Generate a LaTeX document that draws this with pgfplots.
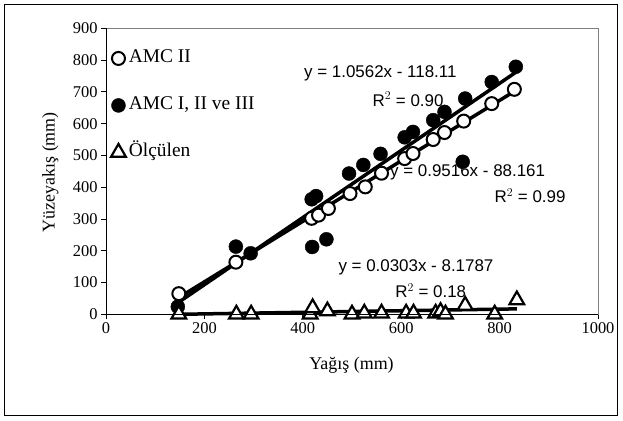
\documentclass[border=0pt]{standalone}
\usepackage{fontspec}
\setmainfont{Liberation Serif}
\newfontfamily\arial{Liberation Sans}
\usepackage{pgfplots}
\pgfplotsset{compat=1.18}

\begin{document}
\begin{tikzpicture}
\begin{axis}[
    scale only axis,
    width=492bp, height=286bp,
    xmin=0, xmax=1000, ymin=0, ymax=900,
    xtick={0,200,...,1000},
    ytick={0,100,...,900},
    tick pos=left,
    tick align=outside,
    major tick length=5bp,
    tick style={black, line width=0.8bp},
    axis line style={draw=gray, line width=0.8bp},
    clip=false,
    /pgf/number format/assume math mode=true,
    /pgf/number format/1000 sep={},
    tick label style={font=\fontsize{16.5}{18}\selectfont},
    xlabel={Yağış (mm)},
    ylabel={Yüzeyakış (mm)},
    label style={font=\fontsize{18}{20}\selectfont},
    xlabel style={at={(rel axis cs:0.499,-0.177)}, anchor=center},
    ylabel style={at={(rel axis cs:-0.113,0.497)}, anchor=center, rotate=0},
    legend style={at={(rel axis cs:0.01,0.932)}, anchor=north west,
        draw=none, fill=none, inner sep=0pt, row sep=26bp,
        font=\fontsize{19.5}{21}\selectfont,
        nodes={text height=13bp, text depth=4bp, inner xsep=3bp}},
    legend cell align=left,
    legend image code/.code={\draw[#1] plot coordinates {(0bp,0bp)};},
]
% regression labels first, so the marks cover them
\node[font=\arial\fontsize{17}{19}\selectfont] at (axis cs:557.6,758.8) {y = 1.0562x - 118.11};
\node[font=\arial\fontsize{17}{19}\selectfont] at (axis cs:614,677) {R$^2$ = 0.90};
\node[font=\arial\fontsize{17}{19}\selectfont] at (axis cs:735,447) {y = 0.9516x - 88.161};
\node[font=\arial\fontsize{17}{19}\selectfont] at (axis cs:862,372) {R$^2$ = 0.99};
\node[font=\arial\fontsize{17}{19}\selectfont] at (axis cs:630,148) {y = 0.0303x - 8.1787};
\node[font=\arial\fontsize{17}{19}\selectfont] at (axis cs:660,73) {R$^2$ = 0.18};

\addplot[only marks, mark=*, mark size=6.5bp, mark options={draw=black, fill=white, line width=2bp}]
coordinates {
(148,65)(264,164)(418,302)(432,312)(452,333)(496,380)(527,401)(560,444)
(607,490)(624,506)(665,550)(688,572)(727,608)(784,663)(830,708)
};
\addlegendentry{AMC II}

\addplot[only marks, mark=*, mark size=7bp, mark options={draw=black, fill=black}]
coordinates {
(146,24)(264,213)(294,192)(418,362)(427,372)(419,212)(448,236)(494,443)
(523,470)(558,505)(607,557)(624,574)(665,611)(688,637)(730,679)(725,480)
(784,731)(833,779)
};
\addlegendentry{AMC I, II ve III}

\addplot[only marks, mark=triangle*, mark size=8.5bp, mark options={draw=black, fill=white, line width=2.2bp}]
coordinates {
(148,0)(265,0)(295,0)(415,0)(420,20)(450,10)(500,0)(525,3)(560,3)
(610,3)(625,3)(670,3)(680,8)(690,0)(730,28)(790,0)(835,45)
};
\addlegendentry{Ölçülen}

% trend lines
\addplot[black, line width=3.5bp, forget plot] coordinates {(148,52.7)(830,701.7)};
\addplot[black, line width=3.5bp, forget plot] coordinates {(146,36.1)(833,761.7)};
\addplot[black, line width=3.5bp, forget plot] coordinates {(148,0)(835,17.1)};
\end{axis}
\draw[black, line width=1bp] (0,286bp) -- (0,0) -- (492bp,0);
\draw[black, line width=1bp] (-101bp,-100.7bp) rectangle (511bp,309.3bp);
\path[use as bounding box] (-106bp,-106.7bp) rectangle (517bp,314.3bp);
\end{tikzpicture}
\end{document}
